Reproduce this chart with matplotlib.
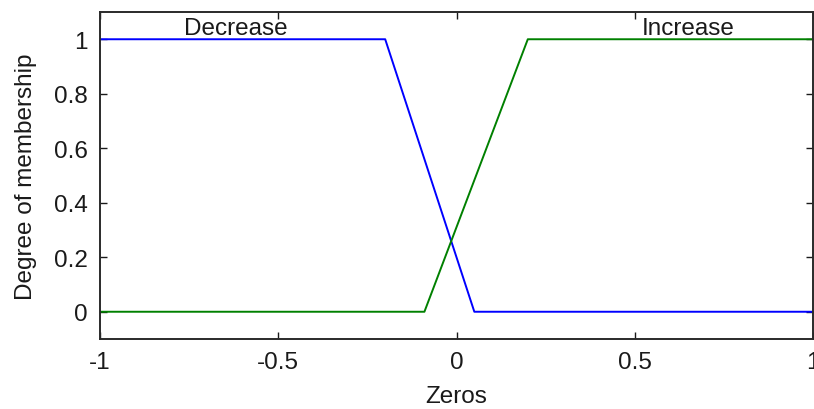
import numpy as np
import matplotlib
matplotlib.use("Agg")
import matplotlib.pyplot as plt

plt.rcParams['font.family'] = ['Liberation Sans', 'DejaVu Sans']

# Membership function breakpoints (x, degree)
decrease_x = [-1.0, -0.2, 0.05, 1.0]
decrease_y = [1.0, 1.0, 0.0, 0.0]
increase_x = [-1.0, -0.09, 0.2, 1.0]
increase_y = [0.0, 0.0, 1.0, 1.0]

mf_names = ["Decrease", "Increase"]
mf_label_x = [-0.62, 0.65]

xticks = [-1, -0.5, 0, 0.5, 1]
xticklabels = ["-1", "-0.5", "0", "0.5", "1"]
yticks = [0, 0.2, 0.4, 0.6, 0.8, 1]
yticklabels = ["0", "0.2", "0.4", "0.6", "0.8", "1"]

fig = plt.figure(figsize=(8.14, 4.10), dpi=100)
ax = fig.add_axes([100 / 814, 70 / 410, 713 / 814, 327 / 410])

ax.plot(decrease_x, decrease_y, color=(0, 0, 1), lw=1.4)
ax.plot(increase_x, increase_y, color=(0, 0.5, 0), lw=1.4)

for name, xpos in zip(mf_names, mf_label_x):
    ax.text(xpos, 1.02, name, ha='center', va='baseline', fontsize=17.5, color='#1a1a1a')

ax.set_xlim(-1, 1)
ax.set_ylim(-0.1, 1.1)
ax.set_xticks(xticks)
ax.set_xticklabels(xticklabels)
ax.set_yticks(yticks)
ax.set_yticklabels(yticklabels)
ax.tick_params(direction='in', length=5, width=1, top=True, right=True,
               labelsize=17.5, colors='#1a1a1a', pad=9)
for sp in ax.spines.values():
    sp.set_linewidth(1.4)
    sp.set_color('#2a2a2a')

ax.set_xlabel("Zeros", fontsize=17.5, color='#1a1a1a', labelpad=8)
ax.set_ylabel("Degree of membership", fontsize=17.5, color='#1a1a1a', labelpad=12)

fig.savefig("out.png", dpi=100)
